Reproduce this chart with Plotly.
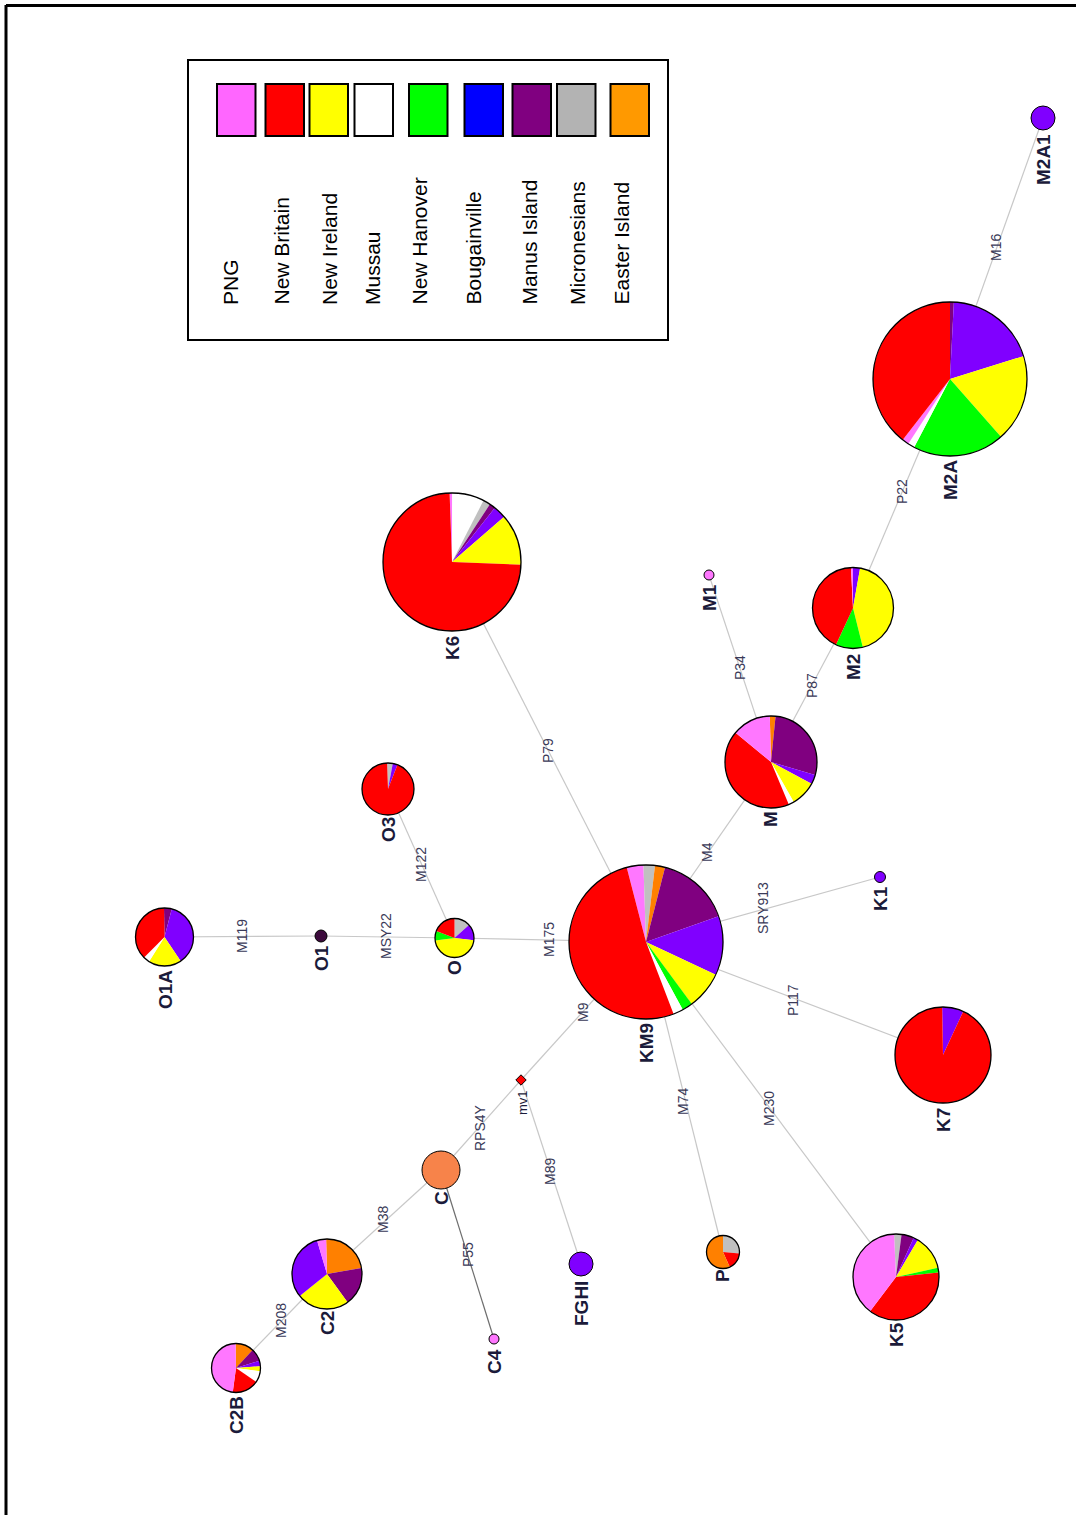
import plotly.graph_objects as go

W, H = 1076, 1515

# ---- data -------------------------------------------------------------
regions = ["PNG", "New Britain", "New Ireland", "Mussau", "New Hanover",
           "Bougainville", "Manus Island", "Micronesians", "Easter Island"]
legend_colors = ["#FF66FF", "#FF0000", "#FFFF00", "#FFFFFF", "#00FF00",
                 "#0000FF", "#800080", "#B3B3B3", "#FF9900"]
slice_colors = {"PNG": "#FF77FF", "New Britain": "#FF0000", "New Ireland": "#FFFF00",
                "Mussau": "#FFFFFF", "New Hanover": "#00FF00", "Bougainville": "#8000FF",
                "Manus Island": "#800080", "Micronesians": "#C0C0C0",
                "Easter Island": "#FF8000"}

# haplogroup composition (percent), listed in drawing order
K6_regions = ["PNG", "Mussau", "Micronesians", "Manus Island", "Bougainville", "New Ireland", "New Britain"]
K6_values = [0.6, 7.5, 1.7, 1.4, 3.0, 12.0, 73.8]
M2A_regions = ["Manus Island", "Bougainville", "New Ireland", "New Hanover", "Mussau", "PNG", "New Britain"]
M2A_values = [0.8, 19.4, 18.3, 19.2, 1.4, 1.4, 39.5]
M2_regions = ["Bougainville", "New Ireland", "New Hanover", "New Britain", "PNG"]
M2_values = [2.8, 43.3, 10.8, 42.3, 0.8]
M_regions = ["Easter Island", "Manus Island", "Bougainville", "New Ireland", "Mussau", "New Britain", "PNG"]
M_values = [2.0, 28.0, 3.3, 8.9, 1.9, 42.3, 13.6]
KM9_regions = ["PNG", "Micronesians", "Easter Island", "Manus Island", "Bougainville",
               "New Ireland", "New Hanover", "Mussau", "New Britain"]
KM9_values = [3.5, 2.4, 2.1, 15.6, 12.4, 7.9, 2.2, 2.1, 51.8]
K7_regions = ["Bougainville", "New Britain"]
K7_values = [7.2, 92.8]
K5_regions = ["Micronesians", "Manus Island", "Bougainville", "New Ireland", "New Hanover", "New Britain", "PNG"]
K5_values = [2.8, 4.7, 1.7, 13.1, 1.8, 36.9, 39.0]
P_regions = ["Micronesians", "New Britain", "Easter Island"]
P_values = [26.4, 16.9, 56.7]
C2_regions = ["Easter Island", "Manus Island", "New Ireland", "Bougainville", "PNG"]
C2_values = [22.6, 17.8, 24.2, 31.2, 4.2]
C2B_regions = ["Easter Island", "Manus Island", "Bougainville", "New Ireland", "Mussau", "New Britain", "PNG"]
C2B_values = [12.2, 8.3, 3.6, 3.3, 7.5, 17.5, 47.6]
O1A_regions = ["Manus Island", "Bougainville", "New Ireland", "Mussau", "New Britain"]
O1A_values = [4.3, 36.6, 18.3, 3.5, 37.3]
O_regions = ["Micronesians", "Bougainville", "New Ireland", "New Hanover", "New Britain"]
O_values = [13.3, 13.6, 46.1, 7.8, 19.2]
O3_regions = ["Micronesians", "Bougainville", "New Britain"]
O3_values = [3.5, 3.0, 93.5]

pie_nodes = {
    "K6": (K6_regions, K6_values), "M2A": (M2A_regions, M2A_values),
    "M2": (M2_regions, M2_values), "M": (M_regions, M_values),
    "KM9": (KM9_regions, KM9_values), "K7": (K7_regions, K7_values),
    "K5": (K5_regions, K5_values), "P": (P_regions, P_values),
    "C2": (C2_regions, C2_values), "C2B": (C2B_regions, C2B_values),
    "O1A": (O1A_regions, O1A_values), "O": (O_regions, O_values),
    "O3": (O3_regions, O3_values),
}

# single-colour nodes
solid_nodes = ["O1", "M1", "K1", "mv1", "C", "C4", "FGHI", "M2A1"]
solid_colors = ["#3C0A3C", "#FF77FF", "#8000FF", "#FF0000", "#F7834A",
                "#FF77FF", "#8000FF", "#8000FF"]

# tree edges and the marker that defines each branch
edges = [("KM9", "K6", "P79"), ("KM9", "M", "M4"), ("M", "M1", "P34"),
         ("M", "M2", "P87"), ("M2", "M2A", "P22"), ("M2A", "M2A1", "M16"),
         ("KM9", "K1", "SRY913"), ("KM9", "K7", "P117"), ("KM9", "K5", "M230"),
         ("KM9", "P", "M74"), ("KM9", "mv1", "M9"), ("mv1", "C", "RPS4Y"),
         ("mv1", "FGHI", "M89"), ("C", "C2", "M38"), ("C2", "C2B", "M208"),
         ("C", "C4", "P55"), ("KM9", "O", "M175"), ("O", "O3", "M122"),
         ("O", "O1", "MSY22"), ("O1", "O1A", "M119")]

# ---- layout (pixel positions of the network) ---------------------------
pos = {"K6": (452, 562), "M2A": (950, 379), "M2": (853, 608), "M": (771, 762),
       "KM9": (646, 942), "K7": (943, 1055), "K5": (896, 1277), "P": (723, 1252),
       "C2": (327, 1274), "C2B": (236, 1368), "O1A": (164.5, 937), "O": (454.5, 938),
       "O3": (388, 789), "O1": (321, 936), "M1": (709, 575), "K1": (880, 877),
       "mv1": (521, 1080), "C": (441, 1170), "C4": (494, 1339), "FGHI": (581, 1264),
       "M2A1": (1043, 118)}
radius = {"K6": 69, "M2A": 77, "M2": 40.5, "M": 46, "KM9": 77, "K7": 48, "K5": 43,
          "P": 16.5, "C2": 35, "C2B": 24.5, "O1A": 29, "O": 19.5, "O3": 26,
          "O1": 6, "M1": 5, "K1": 5.5, "mv1": 4, "C": 19, "C4": 5, "FGHI": 12,
          "M2A1": 12}
start_angle = {"K6": -2, "M2A": 0, "M2": 0, "M": -1.5, "KM9": -14.5, "K7": -1,
               "K5": -2.6, "P": 0, "C2": -1.4, "C2B": -1, "O1A": -1, "O": 0, "O3": -2}

node_label_pos = {"O1A": (165, 990), "O1": (321, 958), "O": (454, 968), "O3": (388, 830),
                  "K6": (452, 648), "M1": (709, 598), "M": (770, 819), "M2": (853, 667),
                  "M2A": (950, 480), "M2A1": (1043, 160), "K1": (880, 899),
                  "KM9": (646, 1043), "K7": (943, 1120), "K5": (896, 1335),
                  "P": (722, 1276), "FGHI": (581, 1304), "C": (441, 1198),
                  "C4": (494, 1362), "C2": (327, 1323), "C2B": (236, 1415),
                  "mv1": (522, 1103)}
edge_label_pos = {"M119": (242, 936), "MSY22": (386, 936), "M122": (421, 865),
                  "M175": (549, 940), "M9": (583, 1012), "RPS4Y": (480, 1128),
                  "M89": (550, 1172), "M38": (383, 1220), "P55": (468, 1255),
                  "M208": (281, 1321), "M74": (683, 1102), "M230": (769, 1109),
                  "P117": (793, 1000), "SRY913": (763, 908), "M4": (707, 852),
                  "P79": (548, 751), "P34": (740, 668), "P87": (812, 686),
                  "P22": (902, 492), "M16": (996, 248)}

LABEL_COLOR = "#1B1B3A"
EDGE_LABEL_COLOR = "#3A3A58"
FONT = "Liberation Sans, Arial, sans-serif"

fig = go.Figure()

# branches
for a, b, name in edges:
    xa, ya = pos[a]
    xb, yb = pos[b]
    fig.add_trace(go.Scatter(
        x=[xa, xb], y=[ya, yb], mode="lines", hoverinfo="skip", showlegend=False,
        line=dict(color="#6E6E6E" if name == "P55" else "#C8C8C8", width=1.2)))

# single-colour nodes
for name, col in zip(solid_nodes, solid_colors):
    x, y = pos[name]
    fig.add_trace(go.Scatter(
        x=[x], y=[y], mode="markers", hoverinfo="skip", showlegend=False,
        marker=dict(size=2 * radius[name], color=col,
                    symbol="diamond" if name == "mv1" else "circle",
                    line=dict(color="black", width=1))))

# composition pies
for name, (regs, vals) in pie_nodes.items():
    x, y = pos[name]
    r = radius[name]
    fig.add_trace(go.Pie(
        labels=regs, values=vals, sort=False, direction="clockwise",
        rotation=start_angle[name], textinfo="none", hoverinfo="label+value",
        showlegend=False,
        marker=dict(colors=[slice_colors[g] for g in regs], line=dict(width=0)),
        domain=dict(x=[(x - r) / W, (x + r) / W], y=[1 - (y + r) / H, 1 - (y - r) / H])))

shapes = []
# black outline of each pie
for name in pie_nodes:
    x, y = pos[name]
    r = radius[name]
    shapes.append(dict(type="circle", xref="x", yref="y", x0=x - r, x1=x + r,
                       y0=y - r, y1=y + r, line=dict(color="black", width=1.3),
                       layer="above"))

# page frame (top and left rules)
shapes.append(dict(type="line", xref="x", yref="y", x0=6, x1=W, y0=5.5, y1=5.5,
                   line=dict(color="black", width=3)))
shapes.append(dict(type="line", xref="x", yref="y", x0=6, x1=6, y0=5, y1=H,
                   line=dict(color="black", width=3)))

# legend box
shapes.append(dict(type="rect", xref="x", yref="y", x0=188, x1=668, y0=60, y1=340,
                   line=dict(color="black", width=2), fillcolor="white"))
swatch_x = [217, 265.5, 309.5, 354.5, 409, 464.5, 512.5, 557, 610.5]
label_x = [230, 281, 329, 372, 419, 473, 529, 577, 621]
annotations = []
for sx, lx, reg, col in zip(swatch_x, label_x, regions, legend_colors):
    shapes.append(dict(type="rect", xref="x", yref="y", x0=sx, x1=sx + 38.5,
                       y0=84, y1=136, line=dict(color="black", width=2), fillcolor=col))
    annotations.append(dict(x=lx, y=307, xref="x", yref="y", text=reg, showarrow=False,
                            textangle=-90, xanchor="center", yanchor="bottom",
                            font=dict(family=FONT, size=21, color="black")))

# node names
for name, (x, y) in node_label_pos.items():
    small = name == "mv1"
    annotations.append(dict(
        x=x, y=y, xref="x", yref="y", text=name if small else "<b>%s</b>" % name,
        showarrow=False, textangle=-90, xanchor="center", yanchor="middle",
        font=dict(family=FONT, size=13 if small else 19, color=LABEL_COLOR)))

# branch markers
for name, (x, y) in edge_label_pos.items():
    annotations.append(dict(
        x=x, y=y, xref="x", yref="y", text=name, showarrow=False, textangle=-90,
        xanchor="center", yanchor="middle",
        font=dict(family=FONT, size=14, color=EDGE_LABEL_COLOR)))

fig.update_layout(
    width=W, height=H, margin=dict(l=0, r=0, t=0, b=0),
    paper_bgcolor="white", plot_bgcolor="white", showlegend=False,
    xaxis=dict(range=[0, W], visible=False, fixedrange=True),
    yaxis=dict(range=[H, 0], visible=False, fixedrange=True),
    shapes=shapes, annotations=annotations)

fig.write_html("out.html")
